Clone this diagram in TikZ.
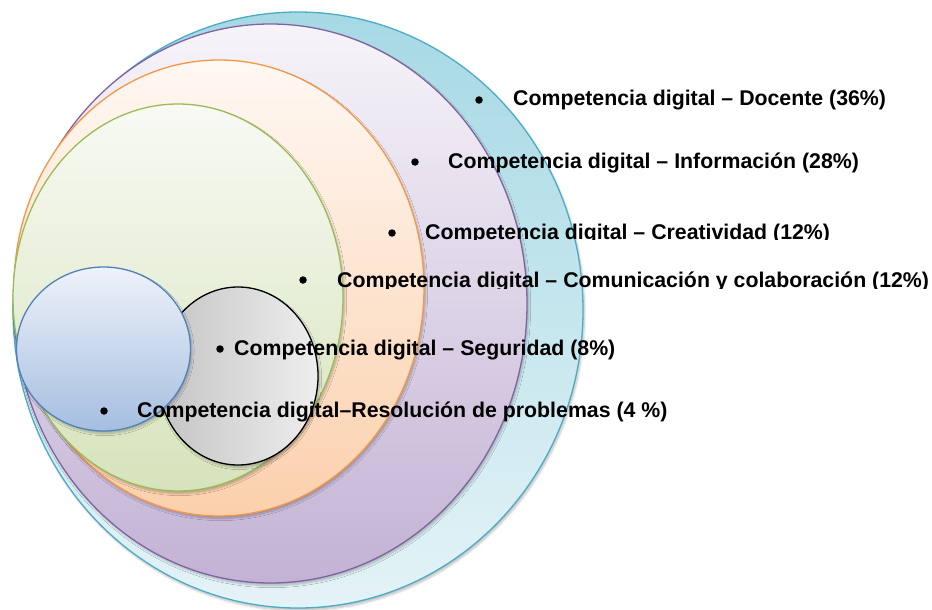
\documentclass[tikz,border=0pt]{standalone}
\usepackage{fontspec}
\setmainfont{Liberation Sans}
\usetikzlibrary{shapes.geometric,shadows.blur}
\definecolor{tealE}{HTML}{4BACC6}
\definecolor{purpE}{HTML}{8064A2}
\definecolor{orngE}{HTML}{F79646}
\definecolor{grnE}{HTML}{9BBB59}
\definecolor{bluE}{HTML}{4F81BD}
\definecolor{tealT}{HTML}{A6D9E4}
\definecolor{tealB}{HTML}{E4F3F7}
\definecolor{purpT}{HTML}{F6F4F9}
\definecolor{purpB}{HTML}{C3B2D4}
\definecolor{orngT}{HTML}{FFF8F3}
\definecolor{orngB}{HTML}{FBD0AC}
\definecolor{grnT}{HTML}{F8FAF4}
\definecolor{grnB}{HTML}{D6E3BB}
\definecolor{grayL}{HTML}{C4C4C4}
\definecolor{grayR}{HTML}{EEEEEE}
\definecolor{bluT}{HTML}{EEF2FA}
\definecolor{bluB}{HTML}{A5BEE0}
\tikzset{
  ring/.style={ellipse, inner sep=0pt, line width=1.3pt,
    blur shadow={shadow blur steps=6, shadow xshift=1.5pt, shadow yshift=-2.5pt, shadow opacity=25}},
  lbl/.style={anchor=base west, inner sep=0pt, font=\fontsize{21.3}{24}\selectfont\bfseries},
  bul/.style={circle, fill=black, inner sep=0pt, minimum size=7.5pt}
}
\begin{document}
\begin{tikzpicture}[x=1pt,y=-1pt]
\useasboundingbox (0,0) rectangle (932,610);
\node[ring, draw=tealE, top color=tealT, bottom color=tealB,
  minimum width=570pt, minimum height=596pt] (teal) at (298,310) {};
\node[ring, draw=purpE, top color=purpT, bottom color=purpB,
  minimum width=513pt, minimum height=559pt] (purple) at (270.5,303.5) {};
\node[ring, draw=orngE, top color=orngT, bottom color=orngB,
  minimum width=410pt, minimum height=456pt] (orange) at (219,288) {};
\node[ring, draw=grnE, top color=grnT, bottom color=grnB,
  minimum width=330pt, minimum height=387pt] (green) at (178,297.5) {};
\node[ring, draw=black, left color=grayL, right color=grayR,
  minimum width=160pt, minimum height=178pt] (gray) at (238,376) {};
\node[ring, draw=bluE, top color=bluT, bottom color=bluB,
  minimum width=174pt, minimum height=164pt] (blue) at (103.5,349) {};

\node[bul] (b1) at (479,100) {};
\node[lbl] (t1) at (513,106) {Competencia digital – Docente (36\%)};
\node[bul] (b2) at (415,162) {};
\node[lbl] (t2) at (448,168) {Competencia digital – Información (28\%)};
\node[bul] (b3) at (392,233) {};
\begin{scope}
\clip (0,0) rectangle (932,239.5);
\node[lbl] (t3) at (425,239) {Competencia digital – Creatividad (12\%)};
\end{scope}
\node[bul] (b4) at (303,280) {};
\begin{scope}
\clip (0,250) rectangle (932,288);
\node[lbl] (t4) at (337,287) {Competencia digital – Comunicación y colaboración (12\%)};
\end{scope}
\node[bul] (b5) at (220,349) {};
\node[lbl] (t5) at (234,355) {Competencia digital – Seguridad (8\%)};
\node[bul] (b6) at (104,411) {};
\node[lbl] (t6) at (137,417) {Competencia digital–Resolución de problemas (4 \%)};
\end{tikzpicture}
\end{document}
